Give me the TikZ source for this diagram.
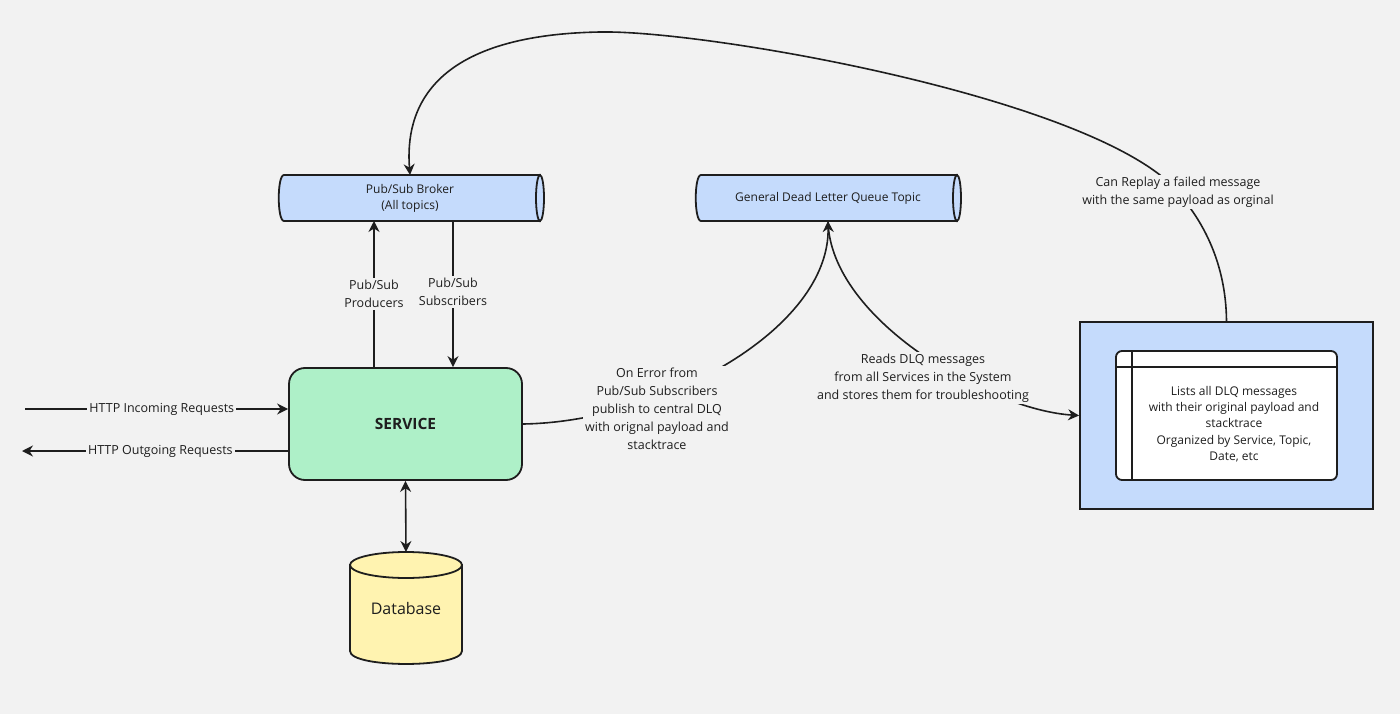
\documentclass[tikz,border=0pt]{standalone}
\usepackage{fontspec}
\setmainfont{Open Sans}
\usetikzlibrary{arrows.meta}
\definecolor{bg}{HTML}{F2F2F2}
\definecolor{ln}{HTML}{1E1E1E}
\definecolor{blu}{HTML}{C5DBFC}
\definecolor{grn}{HTML}{AEF0C8}
\definecolor{yel}{HTML}{FFF3B0}
\begin{document}
\begin{tikzpicture}[x=1pt,y=-1pt,
  line/.style={draw=ln,line width=1.8pt},
  conn/.style={ln,line width=1.6pt,-{Stealth[length=11pt,width=11pt]}},
  lbl/.style={fill=bg,inner sep=2pt,align=center,font=\fontsize{12.5}{18}\selectfont,text=ln},
  sm/.style={align=center,font=\fontsize{12}{16}\selectfont,text=ln}]
\fill[bg] (0,0) rectangle (1400,714);
\useasboundingbox (0,0) rectangle (1400,714);
% broker cylinder
\path[line,fill=blu] (540,175) -- (284,175) .. controls (277,175) and (277,221) .. (284,221) -- (540,221) -- cycle;
\path[line,fill=blu] (540,198) ellipse[x radius=4,y radius=23];
\node[sm] (broker) at (410,198) {Pub/Sub Broker\\(All topics)};
\coordinate (bt) at (410,175);
\coordinate (bp) at (374,221);
\coordinate (bs) at (453,221);
% DLQ topic
\path[line,fill=blu] (957,175) -- (701,175) .. controls (694,175) and (694,221) .. (701,221) -- (957,221) -- cycle;
\path[line,fill=blu] (957,198) ellipse[x radius=4,y radius=23];
\node[sm] (dlq) at (828,198) {General Dead Letter Queue Topic};
\coordinate (dlqb) at (828,221);
% service
\node[line,fill=grn,rounded corners=16pt,minimum width=233pt,minimum height=112pt,font=\bfseries\fontsize{15.5}{18}\selectfont,text=ln] (svc) at (405.5,424) {SERVICE};
% database
\path[line,fill=yel] (350,565) -- (350,651) .. controls (350,668.3) and (462,668.3) .. (462,651) -- (462,565) -- cycle;
\path[line,fill=yel] (406,565) ellipse[x radius=56,y radius=13];
\node[font=\fontsize{16}{18}\selectfont,text=ln] (db) at (406,608) {Database};
\coordinate (dbt) at (406,552);
% right box
\node[line,fill=blu,minimum width=293pt,minimum height=187pt,inner sep=0pt] (ui) at (1226.5,415.5) {};
\draw[line,fill=white,rounded corners=6pt] (1116,351) rectangle (1337,480);
\draw[line] (1116,367) -- (1337,367) (1132,351) -- (1132,480);
\node[align=center,font=\fontsize{12}{16.3}\selectfont,text=ln] (uit) at (1234,424) {Lists all DLQ messages\\with their original payload and\\stacktrace\\Organized by Service, Topic,\\Date, etc};
% connectors
\draw[conn] (svc.north -| bp) -- node[lbl]{Pub/Sub\\Producers} (bp);
\draw[conn] (bs) -- node[lbl,yshift=2pt]{Pub/Sub\\Subscribers} (svc.north -| bs);
\coordinate (hin) at (25,409);
\coordinate (hout) at (22,451);
\draw[conn] (hin) -- node[lbl,pos=0.52]{HTTP Incoming Requests} (hin -| svc.west);
\draw[conn] (hout -| svc.west) -- node[lbl,pos=0.48]{HTTP Outgoing Requests} (hout);
\draw[conn,{Stealth[length=11pt,width=11pt]}-{Stealth[length=11pt,width=11pt]}] (svc.south) -- (dbt);
\draw[conn] (svc.east) .. controls (660,422) and (830,330) .. (dlqb);
\node[lbl] (l1) at (657,409) {On Error from\\Pub/Sub Subscribers\\publish to central DLQ\\with orignal payload and\\stacktrace};
\draw[conn] (dlqb) .. controls (830,320) and (990,410) .. (ui.west);
\node[lbl] (l2) at (923,378) {Reads DLQ messages\\from all Services in the System\\and stores them for troubleshooting};
\draw[conn] (ui.north) .. controls (1226,260) and (1200,210) .. (1160,175)
  .. controls (1050,90) and (700,30) .. (600,32)
  .. controls (430,35) and (405,110) .. (bt);
\node[lbl] (rl) at (1178,192) {Can Replay a failed message\\with the same payload as orginal};
\end{tikzpicture}
\end{document}
